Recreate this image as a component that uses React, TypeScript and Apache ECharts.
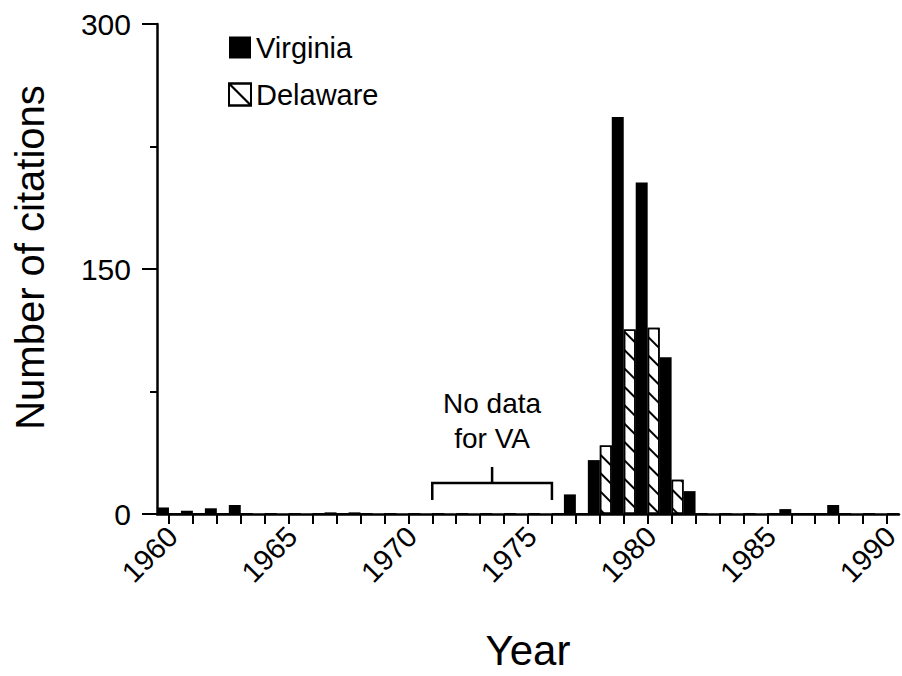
import React, { useEffect, useRef } from 'react';
import * as echarts from 'echarts';

const years = [
  '1960', '1961', '1962', '1963', '1964', '1965', '1966', '1967', '1968', '1969',
  '1970', '1971', '1972', '1973', '1974', '1975', '1976', '1977', '1978', '1979',
  '1980', '1981', '1982', '1983', '1984', '1985', '1986', '1987', '1988', '1989', '1990',
];

// Virginia: no data 1971-1976
const virginia = [
  4, 2, 3.5, 5.5, 0, 0, 0, 1, 1, 0,
  0, null, null, null, null, null, null, 12, 33, 243,
  203, 96, 14, 0, 0, 0, 3, 0.6, 5.5, 0, 0,
];

const delaware = [
  0, 0, 0, 0, 0, 0, 0, 0, 0, 0,
  0, 0, 0, 0, 0, 0, 0, 0, 42, 113,
  114, 21, 0, 0, 0, 0, 0, 0, 0, 0, 0,
];

const yTicks = [0, 150, 300];
const noDataSpan = ['1971', '1976'];
const noDataLabel = 'No data\nfor VA';

const FONT = '"Liberation Sans", Arial, Helvetica, sans-serif';

export default function App() {
  const ref = useRef<HTMLDivElement>(null);

  useEffect(() => {
    if (!ref.current) return;
    const chart = echarts.init(ref.current, null, { renderer: 'svg' });

    const hatch = {
      symbol: 'rect',
      symbolSize: 1,
      color: '#000',
      backgroundColor: '#fff',
      dashArrayX: [1, 0],
      dashArrayY: [2, 10.8],
      rotation: Math.PI / 4,
    };

    const option: any = {
      animation: false,
      backgroundColor: '#fff',
      textStyle: { fontFamily: FONT, color: '#000' },
      grid: {
        left: 157,
        right: 3,
        top: 24,
        bottom: 162,
        containLabel: false,
        outerBoundsMode: 'none',
      },
      legend: {
        orient: 'vertical',
        left: 228,
        top: 33,
        padding: 0,
        itemWidth: 22,
        itemHeight: 22,
        itemGap: 18,
        selectedMode: false,
        textStyle: { fontSize: 29, color: '#000', fontFamily: FONT },
        data: [
          { name: 'Virginia', icon: 'rect', itemStyle: { color: '#000' } },
          {
            name: 'Delaware',
            icon: 'path://M0,0L20,0L20,20L0,20Z M1,1L19,19',
            itemStyle: {
              color: '#fff',
              borderColor: '#000',
              borderWidth: 2,
              decal: { color: 'rgba(0,0,0,0)', backgroundColor: '#fff' },
            },
          },
        ],
      },
      xAxis: {
        type: 'category',
        data: years,
        boundaryGap: true,
        name: 'Year',
        nameLocation: 'middle',
        nameGap: 115,
        nameTextStyle: { fontSize: 42, color: '#000', fontFamily: FONT },
        axisLine: { show: true, lineStyle: { color: '#000', width: 2.5 } },
        axisTick: {
          show: true,
          alignWithLabel: true,
          interval: 0,
          length: 10,
          lineStyle: { color: '#000', width: 2 },
        },
        axisLabel: {
          interval: 4,
          rotate: 45,
          align: 'right',
          verticalAlign: 'top',
          lineHeight: 10,
          margin: 14,
          fontSize: 29,
          color: '#000',
          fontFamily: FONT,
        },
        splitLine: { show: false },
      },
      yAxis: {
        type: 'value',
        min: 0,
        max: 300,
        interval: 150,
        name: 'Number of citations',
        nameLocation: 'middle',
        nameGap: 107,
        nameTextStyle: {
          fontSize: 40,
          color: '#000',
          fontFamily: FONT,
          padding: [0, 0, 0, 23],
        },
        axisLine: { show: true, lineStyle: { color: '#000', width: 2.5 } },
        axisTick: { show: true, length: 15, lineStyle: { color: '#000', width: 2 } },
        minorTick: { show: true, splitNumber: 2, length: 7, lineStyle: { color: '#000', width: 2 } },
        axisLabel: {
          margin: 26,
          fontSize: 30,
          color: '#000',
          fontFamily: FONT,
          formatter: (v: number) => (yTicks.includes(v) ? String(v) : ''),
        },
        splitLine: { show: false },
        minorSplitLine: { show: false },
      },
      series: [
        {
          name: 'Virginia',
          type: 'bar',
          data: virginia,
          barGap: '0%',
          barCategoryGap: '0%',
          itemStyle: { color: '#000' },
          silent: true,
        },
        {
          name: 'Delaware',
          type: 'bar',
          data: delaware,
          barGap: '0%',
          barCategoryGap: '0%',
          itemStyle: {
            color: '#fff',
            borderColor: '#000',
            borderWidth: 1.5,
            decal: hatch,
          },
          silent: true,
        },
        {
          name: 'annotation',
          type: 'custom',
          silent: true,
          data: [[years.indexOf(noDataSpan[0]), years.indexOf(noDataSpan[1])]],
          renderItem: (params: any, api: any) => {
            const a = api.value(0);
            const b = api.value(1);
            const pl = api.coord([a, 19]);
            const pr = api.coord([b, 19]);
            const y = pl[1];
            const xl = pl[0];
            const xr = pr[0];
            const xm = (xl + xr) / 2;
            return {
              type: 'group',
              children: [
                {
                  type: 'polyline',
                  shape: { points: [[xl, y + 17], [xl, y], [xr, y], [xr, y + 17]] },
                  style: { stroke: '#000', lineWidth: 2.5, fill: null },
                },
                {
                  type: 'line',
                  shape: { x1: xm, y1: y, x2: xm, y2: y - 16 },
                  style: { stroke: '#000', lineWidth: 2.5 },
                },
                {
                  type: 'text',
                  style: {
                    text: noDataLabel,
                    x: xm,
                    y: y - 27,
                    align: 'center',
                    verticalAlign: 'bottom',
                    fontSize: 28,
                    lineHeight: 35,
                    fontFamily: FONT,
                    fill: '#000',
                  },
                },
              ],
            };
          },
        },
      ],
    };

    chart.setOption(option);
    return () => chart.dispose();
  }, []);

  return (
    <div
      ref={ref}
      style={{ position: 'fixed', left: 0, top: 0, width: 902, height: 676 }}
    />
  );
}
